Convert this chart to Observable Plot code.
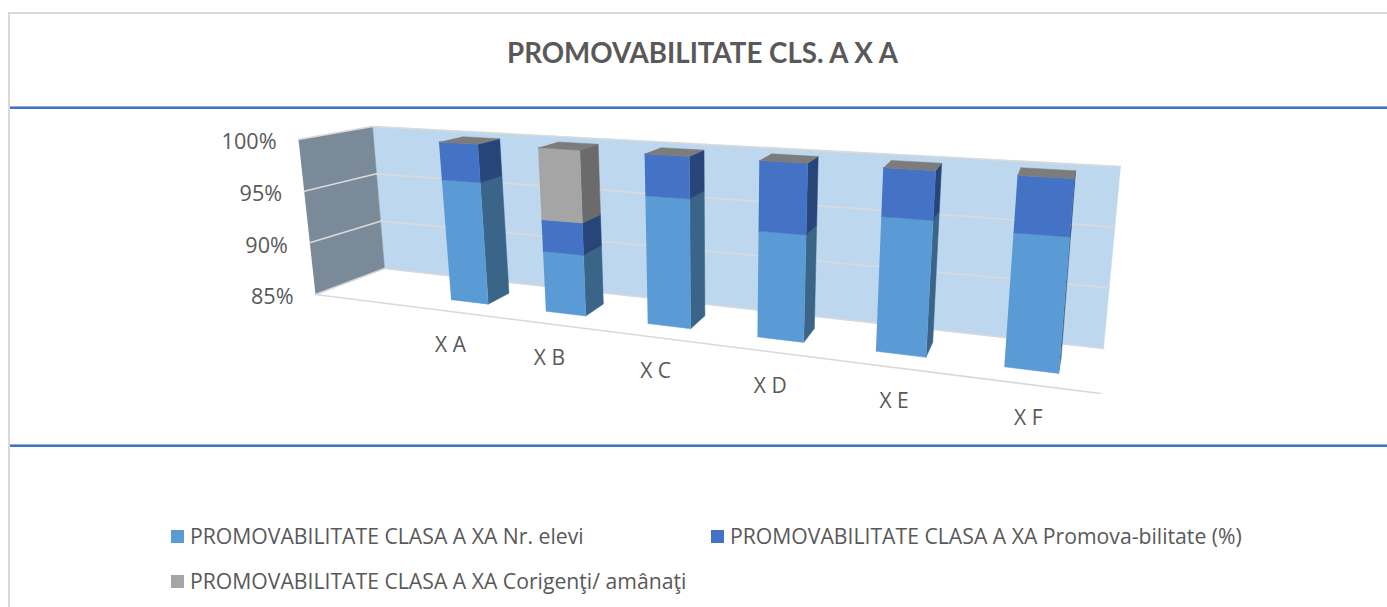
<!DOCTYPE html>
<html><head><meta charset="utf-8">
<script src="https://cdn.jsdelivr.net/npm/d3@7"></script>
<script src="https://cdn.jsdelivr.net/npm/@observablehq/plot@0.6"></script>
<style>
html,body{margin:0;padding:0;background:#fff;overflow:hidden}
#frame{position:absolute;left:8px;top:12px;width:1379px;height:595px;border-left:2px solid #d9d9d9;border-top:2px solid #d9d9d9;box-sizing:border-box}
#title{position:absolute;left:18px;top:14px;width:1369px;height:92px;
 font:bold 27.7px Lato,sans-serif;color:#595959;text-align:center;line-height:78px}
#chart{position:absolute;left:0;top:108px}
.rule{position:absolute;left:10px;width:1377px;height:2px;background:#4472C4;border-top:1px solid #8FAADC}
.lg{position:absolute;font:21.2px "Open Sans",sans-serif;color:#595959;white-space:nowrap;line-height:24px}
.sw{position:absolute;width:13px;height:13px}
</style></head><body>
<div id="frame"></div>
<div id="title">PROMOVABILITATE CLS. A X A</div>
<div id="chart"></div>
<div class="rule" style="top:106px"></div>
<div class="rule" style="top:444px"></div>
<div id="legend"></div>
<script>
const categories = ["X A","X B","X C","X D","X E","X F"];
const nrElevi = [96.4,90.5,96.3,94,96,95.5];
const promovabilitate = [3.6,2.9,3.7,6,4,4.5];
const corigenti = [0,6.6,0,0,0,0];
const yTicks = [85,90,95,100];
const seriesNames = ["PROMOVABILITATE CLASA A XA Nr. elevi","PROMOVABILITATE CLASA A XA Promova-bilitate (%)","PROMOVABILITATE CLASA A XA Corigenţi/ amânaţi"];
const frontColors = ["#5B9BD5","#4472C4","#A5A5A5"];
const sideColors = ["#3A6488","#274579","#6B6B6B"];

// perspective view of the chart box: f = along floor, v = value share, w = depth
const corners = {
  fl0:[315,294], bl0:[384,268], fr0:[1100,393], br0:[1103,348],
  fl1:[298,139], bl1:[372,126], fr1:[1121,188], br1:[1120,166]
};
const lerp=(a,b,t)=>a+(b-a)*t;
function project(f,value,w){
  const v=(value-85)/15;
  return [0,1].map(k=>{
    const lo=lerp(lerp(corners.fl0[k],corners.bl0[k],w),lerp(corners.fr0[k],corners.br0[k],w),f);
    const hi=lerp(lerp(corners.fl1[k],corners.bl1[k],w),lerp(corners.fr1[k],corners.br1[k],w),f);
    return lerp(lo,hi,v);
  });
}
// bars lean slightly more than the box edges
const projectBar=(f,value,w)=>{const p=project(f,value,w);return [p[0]-2*(value-85)/15,p[1]];};
const warp=t=>{const k=0.826;return 0.172+0.736*t*k/(1+(k-1)*t);};
const halfBar=0.04, w0=0.33, w1=0.7;

const polys=[];
const addPoly=(id,c,pts)=>pts.forEach(p=>polys.push({id,c,x:p[0],y:p[1]}));
// walls
addPoly("back","#BDD7EE",[project(0,85,1),project(1,85,1),project(1,100,1),project(0,100,1)]);
addPoly("side","#7A8A99",[project(0,85,0),project(0,85,1),project(0,100,1),project(0,100,0)]);
// bars
categories.forEach((cat,i)=>{
  const t=i/5, fa=warp(t-halfBar), fb=warp(t+halfBar);
  const segs=[nrElevi[i],promovabilitate[i],corigenti[i]];
  let start=0;
  segs.forEach((s,j)=>{
    if(!s) return;
    const v0=j===0?85:start, v1=j===0?s:start+s;
    addPoly(`side${i}${j}`,sideColors[j],[projectBar(fb,v0,w0),projectBar(fb,v0,w1),projectBar(fb,v1,w1),projectBar(fb,v1,w0)]);
    addPoly(`front${i}${j}`,frontColors[j],[projectBar(fa,v0,w0),projectBar(fb,v0,w0),projectBar(fb,v1,w0),projectBar(fa,v1,w0)]);
    start=v1;
  });
  addPoly(`top${i}`,"#7C7C7C",[projectBar(fa,start,w0),projectBar(fb,start,w0),projectBar(fb,start,w1),projectBar(fa,start,w1)]);
});
const wallPolys=polys.filter(p=>p.id==="back"||p.id==="side");
const barPolys=polys.filter(p=>p.id!=="back"&&p.id!=="side");

const gridBack=[90,95,100].flatMap(v=>[project(0,v,1),project(1,v,1)].map(p=>({v,x:p[0],y:p[1]})));
const gridSide=[90,95,100].flatMap(v=>[project(0,v,0),project(0,v,1)].map(p=>({v,x:p[0],y:p[1]})));
const floorEdges=[[project(0,85,0),project(1,85,0),"f"],[project(0,85,0),project(0,85,1),"l"],[project(0,85,1),project(1,85,1),"b"]]
  .flatMap(([a,b,id])=>[a,b].map(p=>({id,x:p[0],y:p[1]})));

const chart=Plot.plot({
  width:1387,height:336,margin:0,
  x:{domain:[0,1387],range:[0,1387],axis:null},
  y:{domain:[108,444],range:[0,336],axis:null},
  color:{type:"identity"},
  style:{fontFamily:"'Open Sans',sans-serif",background:"transparent",overflow:"visible"},
  marks:[
    Plot.line(wallPolys,{x:"x",y:"y",z:"id",fill:"c",stroke:"c",strokeWidth:0.5}),
    Plot.line(gridBack,{x:"x",y:"y",z:"v",stroke:"#DADADA",strokeWidth:1.6}),
    Plot.line(gridSide,{x:"x",y:"y",z:"v",stroke:"#DADADA",strokeWidth:1.6}),
    Plot.line(floorEdges,{x:"x",y:"y",z:"id",stroke:"#D9D9D9",strokeWidth:1.6}),
    Plot.line(barPolys,{x:"x",y:"y",z:"id",fill:"c",stroke:"c",strokeWidth:0.5}),
    Plot.text(yTicks,{x:v=>project(0,v,0)[0],y:v=>project(0,v,0)[1],text:v=>v+"%",textAnchor:"end",dx:-22,dy:3,fontSize:21.6,fill:"#595959"}),
    Plot.text(categories,{x:(c,i)=>project(warp(i/5),85,0)[0],y:(c,i)=>project(warp(i/5),85,0)[1],text:c=>c,dy:34,fontSize:21,fill:"#595959"})
  ]
});
document.getElementById("chart").appendChild(chart);

const legendPos=[[171,530],[711,530],[171,575]];
const lg=document.getElementById("legend");
seriesNames.forEach((n,i)=>{
  const s=document.createElement("div");s.className="sw";s.style.cssText=`left:${legendPos[i][0]}px;top:${legendPos[i][1]}px;background:${frontColors[i]}`;lg.appendChild(s);
  const t=document.createElement("div");t.className="lg";t.textContent=n;t.style.cssText=`left:${legendPos[i][0]+19}px;top:${legendPos[i][1]-6}px`;lg.appendChild(t);
});
</script>
</body></html>
